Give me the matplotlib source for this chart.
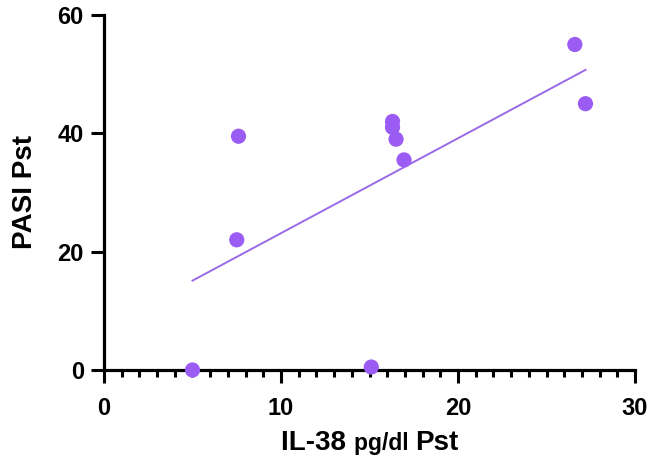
import numpy as np
import matplotlib
matplotlib.use("Agg")
import matplotlib.pyplot as plt
from matplotlib.ticker import MultipleLocator
from matplotlib.offsetbox import TextArea, HPacker, AnchoredOffsetbox

plt.rcParams['font.family'] = ['Liberation Sans', 'DejaVu Sans']

# IL-38 (pg/dl) vs PASI, psoriasis group
il38 = [5.0, 7.6, 7.5, 15.1, 16.3, 16.3, 16.5, 16.95, 26.6, 27.2]
pasi = [0.0, 39.5, 22.0, 0.5, 42.0, 41.0, 39.0, 35.5, 55.0, 45.0]

x_ticks = [0, 10, 20, 30]
y_ticks = [0, 20, 40, 60]

dot_color = '#9b5cf4'
line_color = '#9a6ae8'

fig = plt.figure(figsize=(6.54, 4.66), dpi=100)
ax = fig.add_axes([0.159, 0.206, 0.812, 0.762])

ax.scatter(il38, pasi, s=120, color=dot_color, edgecolors='none', zorder=3, clip_on=False)

# least-squares line across the observed range
slope, intercept = np.polyfit(il38, pasi, 1)
xs = np.array([min(il38), max(il38)])
ax.plot(xs, slope * xs + intercept, color=line_color, lw=1.4, zorder=2)

ax.set_xlim(0, 30)
ax.set_ylim(0, 60)
ax.set_xticks(x_ticks)
ax.set_yticks(y_ticks)
ax.xaxis.set_minor_locator(MultipleLocator(1))

for side in ['top', 'right']:
    ax.spines[side].set_visible(False)
for side in ['left', 'bottom']:
    ax.spines[side].set_linewidth(2.3)

ax.tick_params(axis='x', which='major', direction='out', length=9.5, width=2.2,
               pad=10, labelsize=17)
ax.tick_params(axis='x', which='minor', direction='out', length=5, width=2.2)
ax.tick_params(axis='y', which='major', direction='out', length=9.5, width=2.2,
               pad=5, labelsize=17)
for lab in ax.get_xticklabels() + ax.get_yticklabels():
    lab.set_fontweight('bold')

ax.set_ylabel('PASI Pst', fontsize=20, fontweight='bold', labelpad=14)

# x label with the unit set in a smaller size
parts = [TextArea('IL-38 ', textprops=dict(fontsize=20, fontweight='bold')),
         TextArea('pg/dl ', textprops=dict(fontsize=16.5, fontweight='bold')),
         TextArea('Pst', textprops=dict(fontsize=20, fontweight='bold'))]
label = HPacker(children=parts, align='baseline', pad=0, sep=0)
box = AnchoredOffsetbox(loc='upper center', child=label, pad=0, borderpad=0,
                        frameon=False, bbox_to_anchor=(0.5, -0.168),
                        bbox_transform=ax.transAxes)
ax.add_artist(box)

fig.savefig('out.png', dpi=100)
